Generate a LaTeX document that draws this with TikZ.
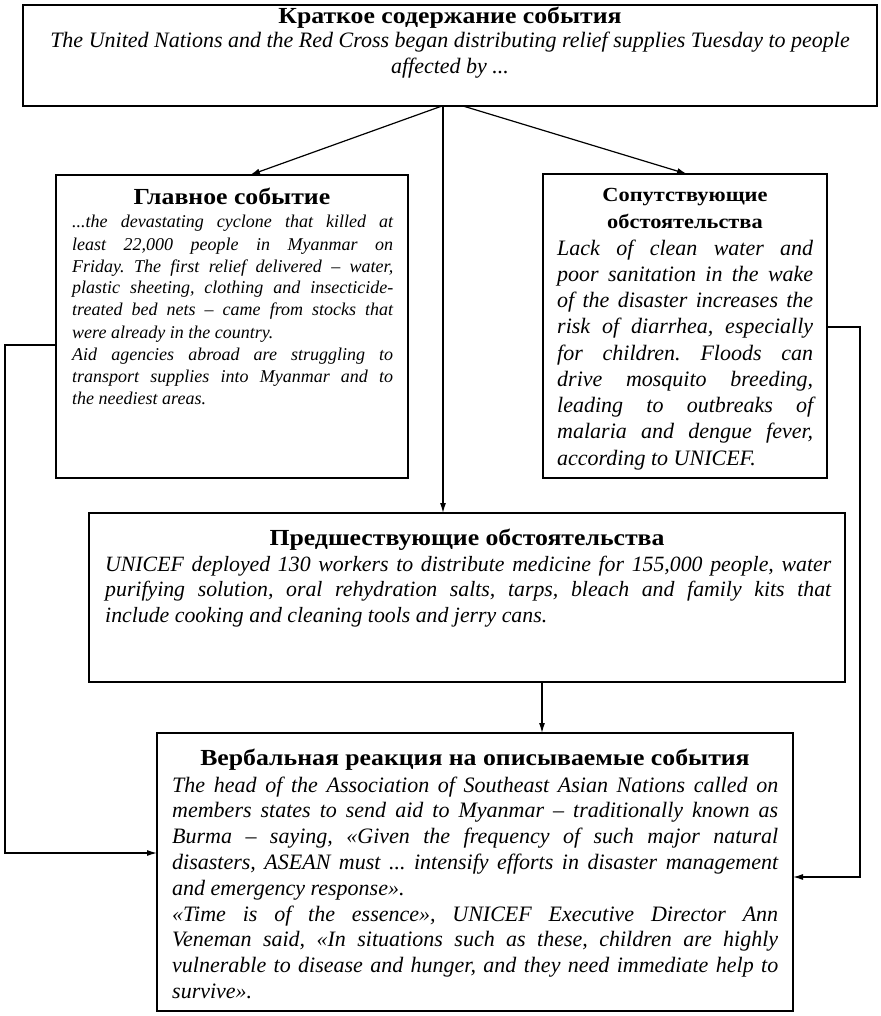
\documentclass[tikz,border=0pt]{standalone}
\usepackage{fontspec}
\setmainfont{Liberation Serif}
\newfontfamily\ttlfont[FakeStretch=1.12]{Liberation Serif}
\usetikzlibrary{arrows.meta}
\begin{document}
\tolerance=10000
\hbadness=10000
\hyphenpenalty=10000
\frenchspacing
\begin{tikzpicture}[x=1pt,y=-1pt,
  frame/.style={draw, line width=1.5pt, inner sep=0pt, outer sep=0pt, anchor=north west},
  ttl/.style={anchor=base, inner sep=0pt, font=\ttlfont\bfseries\fontsize{23}{27}\selectfont},
  ttlsmall/.style={anchor=base, inner sep=0pt, font=\ttlfont\bfseries\fontsize{20}{24}\selectfont},
  oneline/.style={anchor=base, inner sep=0pt, font=\itshape\fontsize{22}{26}\selectfont},
  body/.style={anchor=base west, inner sep=0pt, align=justify},
  arr/.style={line width=1.2pt, -{Latex[length=10pt,width=6pt]}}]
\useasboundingbox (0,0) rectangle (880,1016);
% boxes
\node[frame, minimum width=854pt, minimum height=101pt] (top) at (23,5) {};
\node[frame, minimum width=352pt, minimum height=303pt] (main) at (56,175) {};
\node[frame, minimum width=284pt, minimum height=304pt] (side) at (543,174) {};
\node[frame, minimum width=756pt, minimum height=169pt] (pre) at (89,513) {};
\node[frame, minimum width=636pt, minimum height=278pt] (verb) at (157,733) {};
% titles
\node[ttl] (t1) at (450,24) {Краткое содержание события};
\node[ttl] (t2) at (232,205) {Главное событие};
\node[ttlsmall] (t3a) at (685,202) {Сопутствующие};
\node[ttlsmall] (t3b) at (685,229) {обстоятельства};
\node[ttl] (t4) at (467,545) {Предшествующие обстоятельства};
\node[ttl] (t5) at (475,765) {Вербальная реакция на описываемые события};
% texts
\node[oneline] (x1a) at (450,48)
  {The United Nations and the Red Cross began distributing relief supplies Tuesday to people};
\node[oneline] (x1b) at (450,74) {affected by ...};
\node[body, text width=321pt,
  font=\itshape\fontsize{18}{22}\selectfont] (x2) at (72,228)
  {...the devastating cyclone that killed at\linebreak
   least 22,000 people in Myanmar on\linebreak
   Friday. The first relief delivered – water,\linebreak
   plastic sheeting, clothing and insecticide-\linebreak{}treated bed nets – came from stocks that\linebreak
   were already in the country.\newline
   Aid agencies abroad are struggling to\linebreak
   transport supplies into Myanmar and to\linebreak
   the neediest areas.};
\node[body, text width=256pt,
  font=\itshape\fontsize{22}{26.25}\selectfont] (x3) at (557,255)
  {Lack of clean water and\linebreak
   poor sanitation in the wake\linebreak
   of the disaster increases the\linebreak
   risk of diarrhea, especially\linebreak
   for children. Floods can\linebreak
   drive mosquito breeding,\linebreak
   leading to outbreaks of\linebreak
   malaria and dengue fever,\linebreak
   according to UNICEF.};
\node[body, text width=726pt,
  font=\itshape\fontsize{21.8}{25.5}\selectfont] (x4) at (105,571)
  {UNICEF deployed 130 workers to distribute medicine for 155,000 people, water\linebreak
   purifying solution, oral rehydration salts, tarps, bleach and family kits that\linebreak
   include cooking and cleaning tools and jerry cans.};
\node[body, text width=606pt,
  font=\itshape\fontsize{22}{25.8}\selectfont] (x5) at (172,792)
  {The head of the Association of Southeast Asian Nations called on\linebreak
   members states to send aid to Myanmar – traditionally known as\linebreak
   Burma – saying, «Given the frequency of such major natural\linebreak
   disasters, ASEAN must ... intensify efforts in disaster management\linebreak
   and emergency response».\newline
   «Time is of the essence», UNICEF Executive Director Ann\linebreak
   Veneman said, «In situations such as these, children are highly\linebreak
   vulnerable to disease and hunger, and they need immediate help to\linebreak
   survive».};
% connectors
\draw[arr] ([xshift=-8pt]top.south) -- ([xshift=18pt]main.north);
\draw[arr] ([xshift=13pt]top.south) -- ([xshift=2pt]side.north);
\draw[arr] ([xshift=-7pt]top.south) -- ([xshift=-24pt]pre.north);
\draw[arr] ([xshift=75pt]pre.south) -- ([xshift=67pt]verb.north);
\coordinate (l1) at (5,345);
\coordinate (l2) at (5,853);
\draw[arr] (main.west |- l1) -- (l1) -- (l2) -- (verb.west |- l2);
\coordinate (r1) at (860,327);
\coordinate (r2) at (860,877);
\draw[arr] (side.east |- r1) -- (r1) -- (r2) -- (verb.east |- r2);
\end{tikzpicture}
\end{document}
